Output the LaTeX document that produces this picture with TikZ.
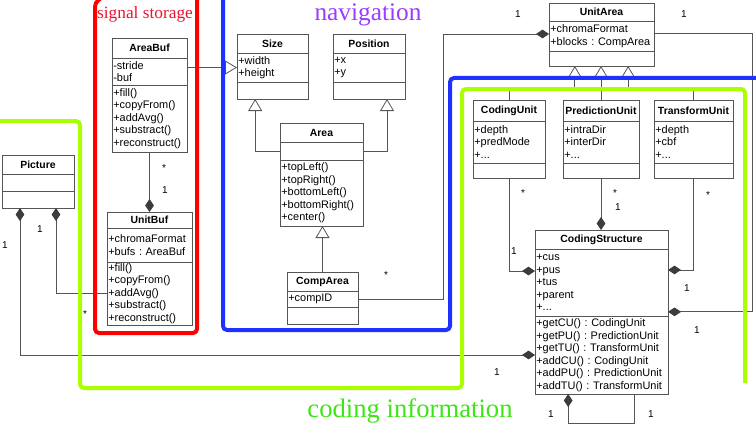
\documentclass[tikz,border=0pt]{standalone}
\usepackage{fontspec}
\setmainfont{Liberation Serif}
\newfontfamily\umlsans{Liberation Sans}
\usetikzlibrary{arrows.meta,positioning}

\definecolor{umlline}{RGB}{85,85,85}
\definecolor{diafill}{RGB}{60,60,60}
\definecolor{redzone}{RGB}{255,0,0}
\definecolor{redtext}{RGB}{235,20,50}
\definecolor{bluezone}{RGB}{30,50,255}
\definecolor{navtext}{RGB}{155,60,255}
\definecolor{greenzone}{RGB}{170,255,0}
\definecolor{greentext}{RGB}{60,230,20}

\newcommand{\umlfont}{\umlsans\fontsize{8.2}{9.4}\selectfont}
\frenchspacing

\begin{document}
\begin{tikzpicture}[x=0.75pt, y=-0.75pt,
    ttl/.style={draw=umlline, fill=white, text width=#1, align=center, inner xsep=1pt,
      inner ysep=0pt, outer sep=0pt, anchor=north west, font={\umlsans\bfseries\fontsize{7.8}{9}\selectfont}},
    sec/.style={draw=umlline, fill=white, text width=#1, align=left, inner xsep=1pt,
      inner ysep=0.5pt, outer sep=0pt, font=\umlfont},
    link/.style={draw=umlline, line width=0.6pt},
    agg/.style={-{Diamond[length=9.75pt,width=6.5pt,color=diafill]}},
    aggboth/.style={{Diamond[length=9.75pt,width=6.5pt,color=diafill]}-{Diamond[length=9.75pt,width=6.5pt,color=diafill]}},
    gen/.style={-{Triangle[open,length=9pt,width=10.5pt]}},
    mult/.style={font={\umlsans\fontsize{7.5}{8}\selectfont}, inner sep=0pt},
    zone/.style={line width=3pt, line join=round, rounded corners=3},
    zonelbl/.style={inner sep=0pt}]

\useasboundingbox (0,0) rectangle (756,428);

% === signal storage ===
\node[ttl=54.25pt, minimum height=15pt] (areabuf-t) at (112,38) {AreaBuf};
\node[sec=54.25pt, minimum height=20.25pt, below=0pt of areabuf-t] (areabuf-a) {-stride\\-buf};
\node[sec=54.25pt, minimum height=50.25pt, below=0pt of areabuf-a] (areabuf-m)
  {+fill()\\+copyFrom()\\+addAvg()\\+substract()\\+reconstruct()};

\node[ttl=61.75pt, minimum height=12pt] (unitbuf-t) at (107,212) {UnitBuf};
\node[sec=61.75pt, minimum height=25.5pt, below=0pt of unitbuf-t] (unitbuf-a) {+chromaFormat\\+bufs : AreaBuf};
\node[sec=61.75pt, minimum height=47.25pt, below=0pt of unitbuf-a] (unitbuf-m)
  {+fill()\\+copyFrom()\\+addAvg()\\+substract()\\+reconstruct()};

\node[ttl=52pt, minimum height=14.25pt] (picture-t) at (2,155) {Picture};
\node[sec=52pt, minimum height=12.75pt, below=0pt of picture-t] (picture-a) {};
\node[sec=52pt, minimum height=12.75pt, below=0pt of picture-a] (picture-m) {};

% === navigation ===
\node[ttl=51.25pt, minimum height=14.25pt] (size-t) at (237,34) {Size};
\node[sec=51.25pt, minimum height=21.75pt, below=0pt of size-t] (size-a) {+width\\+height};
\node[sec=51.25pt, minimum height=12.75pt, below=0pt of size-a] (size-m) {};

\node[ttl=52pt, minimum height=14.25pt] (position-t) at (333,34) {Position};
\node[sec=52pt, minimum height=21.75pt, below=0pt of position-t] (position-a) {+x\\+y};
\node[sec=52pt, minimum height=12.75pt, below=0pt of position-a] (position-m) {};

\node[ttl=60.25pt, minimum height=14.25pt] (area-t) at (280,123) {Area};
\node[sec=60.25pt, minimum height=13.5pt, below=0pt of area-t] (area-a) {};
\node[sec=60.25pt, minimum height=49.5pt, below=0pt of area-a] (area-m)
  {+topLeft()\\+topRight()\\+bottomLeft()\\+bottomRight()\\+center()};

\node[ttl=51.25pt, minimum height=14.25pt] (comparea-t) at (287,272) {CompArea};
\node[sec=51.25pt, minimum height=12pt, below=0pt of comparea-t] (comparea-a) {+compID};
\node[sec=51.25pt, minimum height=12.75pt, below=0pt of comparea-a] (comparea-m) {};

\node[ttl=76.75pt, minimum height=13.5pt] (unitarea-t) at (549,3) {UnitArea};
\node[sec=76.75pt, minimum height=22.5pt, below=0pt of unitarea-t] (unitarea-a) {+chromaFormat\\+blocks : CompArea};
\node[sec=76.75pt, minimum height=11.25pt, below=0pt of unitarea-a] (unitarea-m) {};

% === coding information ===
\node[ttl=52pt, minimum height=15.75pt] (codingunit-t) at (473,100) {CodingUnit};
\node[sec=52pt, minimum height=31.5pt, below=0pt of codingunit-t] (codingunit-a) {+depth\\+predMode\\+...};
\node[sec=52pt, minimum height=11.25pt, below=0pt of codingunit-a] (codingunit-m) {};

\node[ttl=55pt, minimum height=15.75pt] (predictionunit-t) at (563,100) {PredictionUnit};
\node[sec=55pt, minimum height=31.5pt, below=0pt of predictionunit-t] (predictionunit-a) {+intraDir\\+interDir\\+...};
\node[sec=55pt, minimum height=11.25pt, below=0pt of predictionunit-a] (predictionunit-m) {};

\node[ttl=57.25pt, minimum height=15.75pt] (transformunit-t) at (654,100) {TransformUnit};
\node[sec=57.25pt, minimum height=31.5pt, below=0pt of transformunit-t] (transformunit-a) {+depth\\+cbf\\+...};
\node[sec=57.25pt, minimum height=11.25pt, below=0pt of transformunit-a] (transformunit-m) {};

\node[ttl=97.75pt, minimum height=14.25pt] (codingstructure-t) at (535,230) {CodingStructure};
\node[sec=97.75pt, minimum height=50.25pt, below=0pt of codingstructure-t] (codingstructure-a)
  {+cus\\+pus\\+tus\\+parent\\+...};
\node[sec=97.75pt, minimum height=58.5pt, below=0pt of codingstructure-a] (codingstructure-m)
  {+getCU() : CodingUnit\\+getPU() : PredictionUnit\\+getTU() : TransformUnit\\+addCU() : CodingUnit\\+addPU() : PredictionUnit\\+addTU() : TransformUnit};

% === Connectors ===
\draw[link, gen] (areabuf-a.east |- size-a.west) -- (size-a.west);
\draw[link, agg] (areabuf-m.south) -- (unitbuf-t.north);
\draw[link, gen] (area-a.west) -| ([xshift=-13pt]size-m.south);
\draw[link, gen] (area-a.east) -| ([xshift=13.5pt]position-m.south);
\draw[link, gen] (comparea-t.north) -- (comparea-t.north |- area-m.south);
\draw[link, agg] (comparea-a.east) -- ++(85,0) |- ([yshift=1.5pt]unitarea-a.west);
\draw[link, agg] ([yshift=2pt]unitarea-a.east) -- ++(98,0) |- ([yshift=-22pt]codingstructure-a.east);

\draw[link, gen] (codingunit-t.north) -- ++(0,-10) -| ([xshift=-20pt]unitarea-m.south);
\draw[link, gen] (predictionunit-t.north) -- (predictionunit-t.north |- unitarea-m.south);
\draw[link, gen] (transformunit-t.north) -- ++(0,-12) -| ([xshift=20pt]unitarea-m.south);

\draw[link, agg] (codingunit-m.south) |- ([yshift=8.6pt]codingstructure-a.west);
\draw[link, agg] (predictionunit-m.south) -- (predictionunit-m.south |- codingstructure-t.north);
\draw[link, agg] (transformunit-m.south) |- ([yshift=9.4pt]codingstructure-a.east);
\draw[link, agg] ([xshift=25pt]codingstructure-m.south) -- ++(0,29) -| ([xshift=-25pt]codingstructure-m.south);

\draw[link, agg] (unitbuf-m.west) -| ([xshift=13.5pt]picture-m.south);
\draw[link, aggboth] (codingstructure-m.west) -| ([xshift=-13.5pt]picture-m.south);

% === Multiplicities ===
\node[mult] (m-ua-l)  at (518,14)  {1};
\node[mult] (m-ua-r)  at (684,14)  {1};
\node[mult] (m-ca)    at (386,275) {*};
\node[mult] (m-ab-s)  at (164,168) {*};
\node[mult] (m-ab-1)  at (165,190) {1};
\node[mult] (m-pic-l) at (5,245)   {1};
\node[mult] (m-pic-r) at (40,229)  {1};
\node[mult] (m-ub)    at (85,314)  {*};
\node[mult] (m-cs-p)  at (497,372) {1};
\node[mult] (m-cu-s)  at (523,193) {*};
\node[mult] (m-cu-1)  at (514,251) {1};
\node[mult] (m-pu-s)  at (615,193) {*};
\node[mult] (m-pu-1)  at (618,207) {1};
\node[mult] (m-tu-s)  at (708,195) {*};
\node[mult] (m-tu-1)  at (687,288) {1};
\node[mult] (m-ua-cs) at (697,330) {1};
\node[mult] (m-self-l) at (551,414) {1};
\node[mult] (m-self-r) at (651,414) {1};

% === Zones ===
\draw[zone, redzone] (101,-2) .. controls (95,3) .. (95,16) -- (95,333) -- (197,333) -- (197,-4);
\draw[zone, bluezone] (223,-4) -- (223,330) -- (450,330) -- (450,78) -- (760,78);
\draw[zone, greenzone] (-4,121) -- (80,121) -- (80,388) -- (462,388) -- (462,89) -- (745,89) -- (745,383);

\node[zonelbl, text=redtext, font=\fontsize{13}{14}\selectfont] (lbl-signal) at (145,14) {signal storage};
\node[zonelbl, text=navtext, font=\fontsize{19}{20}\selectfont] (lbl-nav) at (368,15) {navigation};
\node[zonelbl, text=greentext, font=\fontsize{20}{21}\selectfont] (lbl-coding) at (410,411) {coding information};

\end{tikzpicture}
\end{document}
